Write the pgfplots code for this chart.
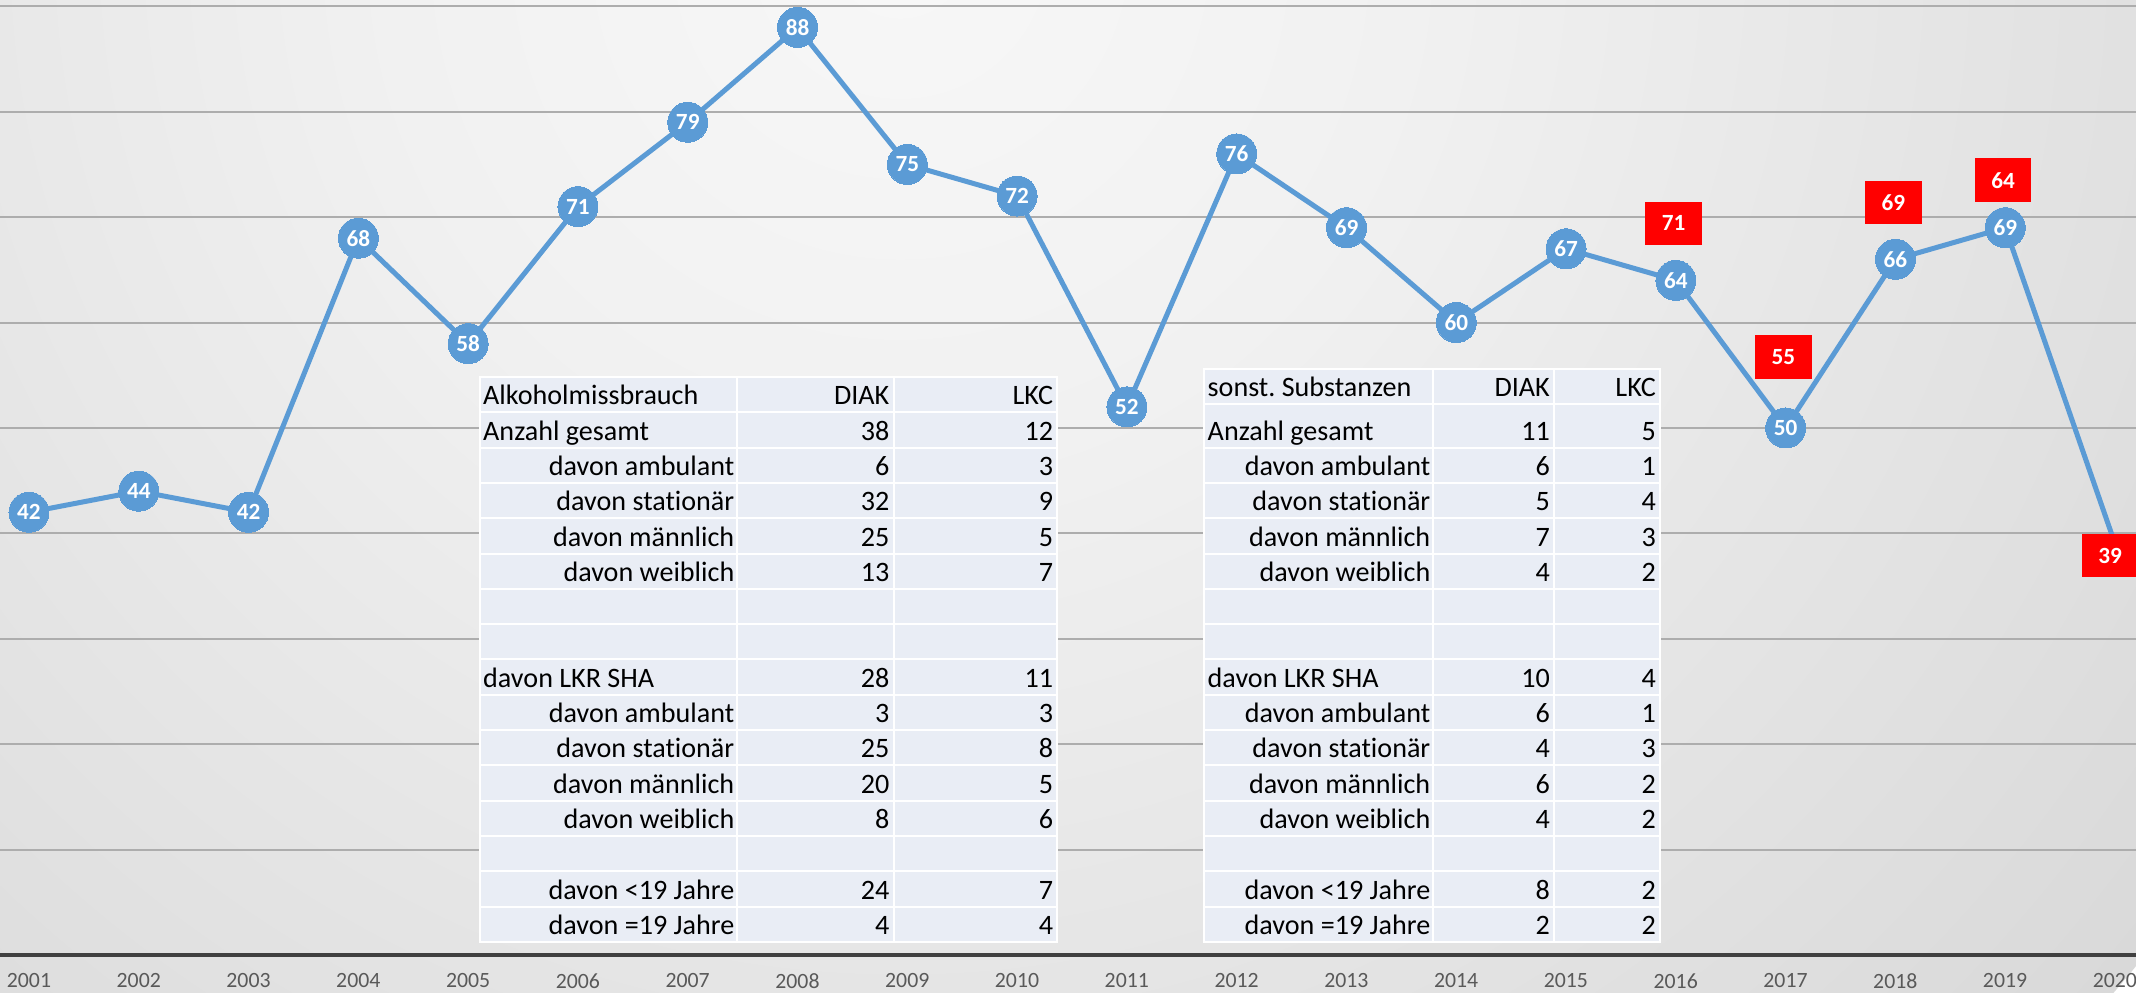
\documentclass[border=0pt]{standalone}
\usepackage{fontspec}
\setmainfont{Carlito}[Ligatures=NoCommon]
\usepackage{pgfplots}
\pgfplotsset{compat=1.18}
\definecolor{lineblue}{HTML}{5B9BD5}
\definecolor{gridc}{HTML}{ADADAD}
\definecolor{axisc}{HTML}{404040}
\definecolor{tickc}{HTML}{595959}
\definecolor{cellc}{HTML}{E9EDF5}
\definecolor{boxred}{HTML}{FF0000}
\pgfdeclareradialshading{bgshade}{\pgfpoint{0bp}{0bp}}{color(0bp)=(black!3); color(8bp)=(black!5.5); color(16bp)=(black!10); color(26bp)=(black!15.5); color(36bp)=(black!19); color(50bp)=(black!22.5)}
\newcommand\tfont{\fontsize{8}{9.5}\selectfont}
\newcommand\trow[6]{%
\fill[cellc] ({\xa+1},{#1+1}) rectangle ({\xb-1},{#2-1});
\fill[cellc] ({\xb+1},{#1+1}) rectangle ({\xc-1},{#2-1});
\fill[cellc] ({\xc+1},{#1+1}) rectangle ({\xd-1},{#2-1});
\if L#3\node[anchor=base west,inner sep=0,font=\tfont] at ({\xa+3},{#2-7.5}) {#4};\else\node[anchor=base east,inner sep=0,font=\tfont] at ({\xb-2},{#2-7.5}) {#4};\fi
\node[anchor=base east,inner sep=0,font=\tfont] at ({\xc-3.5},{#2-7.5}) {#5};
\node[anchor=base east,inner sep=0,font=\tfont] at ({\xd-3},{#2-7.5}) {#6};}

\pgfplotstableread{
x y lab
2001 42 42
2002 44 44
2003 42 42
2004 68 68
2005 58 58
2006 71 71
2007 79 79
2008 88 88
2009 75 75
2010 72 72
2011 52 52
2012 76 76
2013 69 69
2014 60 60
2015 67 67
2016 64 64
2017 50 50
2018 66 66
2019 69 69
2020 39 39
}\mainseries
\pgfplotstableread{
x y lab
2001 42 42
2002 44 44
2003 42 42
2004 68 68
2005 58 58
2006 71 71
2007 79 79
2008 88 88
2009 75 75
2010 72 72
2011 52 52
2012 76 76
2013 69 69
2014 60 60
2015 67 67
2016 64 64
2017 50 50
2018 66 66
2019 69 69
}\markseries
\pgfplotstableread{
x y lab
2015.98 69.4 71
2016.98 56.7 55
2017.98 71.4 69
2018.98 73.5 64
2019.955 37.9 39
}\redseries

\begin{document}
\frenchspacing
\begin{tikzpicture}
\begin{scope}
\clip (0,-3.8mm) rectangle (213.6mm,95.5mm);
\path[shading=bgshade] (90mm,100.5mm) circle (160mm);
\end{scope}
\begin{axis}[at={(0,0)}, anchor=south west, width=213.6mm, height=95.5mm, scale only axis,
  xmin=2000.736, xmax=2020.191, ymin=0, ymax=90.6, clip=false,
  axis line style={draw=none}, major tick length=0pt,
  ytick={10,20,...,90}, yticklabels={}, ymajorgrids,
  major grid style={draw=gridc, line width=0.2mm},
  extra y ticks={0}, extra y tick labels={},
  extra y tick style={grid=major, major grid style={draw=axisc, line width=0.42mm}},
  xtick={2001,...,2020},
  xticklabels={2001,2002,2003,2004,2005,2006,2007,2008,2009,2010,2011,2012,2013,2014,2015,2016,2017,2018,2019,2020},
  xticklabel style={anchor=center, yshift=-2.6mm, text=tickc, font=\fontsize{6.2}{7}\selectfont}]
\addplot[color=lineblue, line width=0.5mm, mark=none] table[x=x,y=y] {\mainseries};
\addplot[color=lineblue, only marks, mark=*, mark size=2mm, mark options={fill=lineblue, draw=lineblue, line width=0pt},
  nodes near coords, point meta=explicit symbolic,
  nodes near coords style={anchor=center, text=white, inner sep=0, font=\bfseries\fontsize{6.6}{7}\selectfont}]
  table[x=x,y=y,meta=lab] {\markseries};
\addplot[draw=none, mark=none, nodes near coords, point meta=explicit symbolic,
  nodes near coords style={anchor=center, fill=boxred, text=white, inner sep=0, minimum width=5.67mm, minimum height=4.37mm, font=\bfseries\fontsize{6.6}{7}\selectfont}]
  table[x=x,y=y,meta=lab] {\redseries};
\end{axis}
\begin{scope}[x=0.1mm,y=-0.1mm,yshift=95.5mm]
% table 1
\def\xa{479.5}\def\xb{737}\def\xc{893.5}\def\xd{1056.7}
\fill[white] ({\xa-1},376) rectangle ({\xd+1},942.8);
\trow{377.0}{412.3}{L}{Alkoholmissbrauch}{DIAK}{LKC}
\trow{412.3}{447.6}{L}{Anzahl gesamt}{38}{12}
\trow{447.6}{482.9}{R}{davon ambulant}{6}{3}
\trow{482.9}{518.2}{R}{davon stationär}{32}{9}
\trow{518.2}{553.5}{R}{davon männlich}{25}{5}
\trow{553.5}{588.8}{R}{davon weiblich}{13}{7}
\trow{588.8}{624.1}{R}{}{}{}
\trow{624.1}{659.4}{R}{}{}{}
\trow{659.4}{694.7}{L}{davon LKR SHA}{28}{11}
\trow{694.7}{730.0}{R}{davon ambulant}{3}{3}
\trow{730.0}{765.3}{R}{davon stationär}{25}{8}
\trow{765.3}{800.6}{R}{davon männlich}{20}{5}
\trow{800.6}{835.9}{R}{davon weiblich}{8}{6}
\trow{835.9}{871.2}{R}{}{}{}
\trow{871.2}{906.5}{R}{davon <19 Jahre}{24}{7}
\trow{906.5}{941.8}{R}{davon =19 Jahre}{4}{4}
% table 2
\def\xa{1204}\def\xb{1433}\def\xc{1554}\def\xd{1659.5}
\fill[white] ({\xa-1},368.3) rectangle ({\xd+1},942.8);
\trow{369.3}{404.3}{L}{sonst.\ Substanzen}{DIAK}{LKC}
\trow{404.3}{447.6}{L}{Anzahl gesamt}{11}{5}
\trow{447.6}{482.9}{R}{davon ambulant}{6}{1}
\trow{482.9}{518.2}{R}{davon stationär}{5}{4}
\trow{518.2}{553.5}{R}{davon männlich}{7}{3}
\trow{553.5}{588.8}{R}{davon weiblich}{4}{2}
\trow{588.8}{624.1}{R}{}{}{}
\trow{624.1}{659.4}{R}{}{}{}
\trow{659.4}{694.7}{L}{davon LKR SHA}{10}{4}
\trow{694.7}{730.0}{R}{davon ambulant}{6}{1}
\trow{730.0}{765.3}{R}{davon stationär}{4}{3}
\trow{765.3}{800.6}{R}{davon männlich}{6}{2}
\trow{800.6}{835.9}{R}{davon weiblich}{4}{2}
\trow{835.9}{871.2}{R}{}{}{}
\trow{871.2}{906.5}{R}{davon <19 Jahre}{8}{2}
\trow{906.5}{941.8}{R}{davon =19 Jahre}{2}{2}
\end{scope}
\pgfresetboundingbox
\useasboundingbox (0,-3.8mm) rectangle (213.6mm,95.5mm);
\end{tikzpicture}
\end{document}
